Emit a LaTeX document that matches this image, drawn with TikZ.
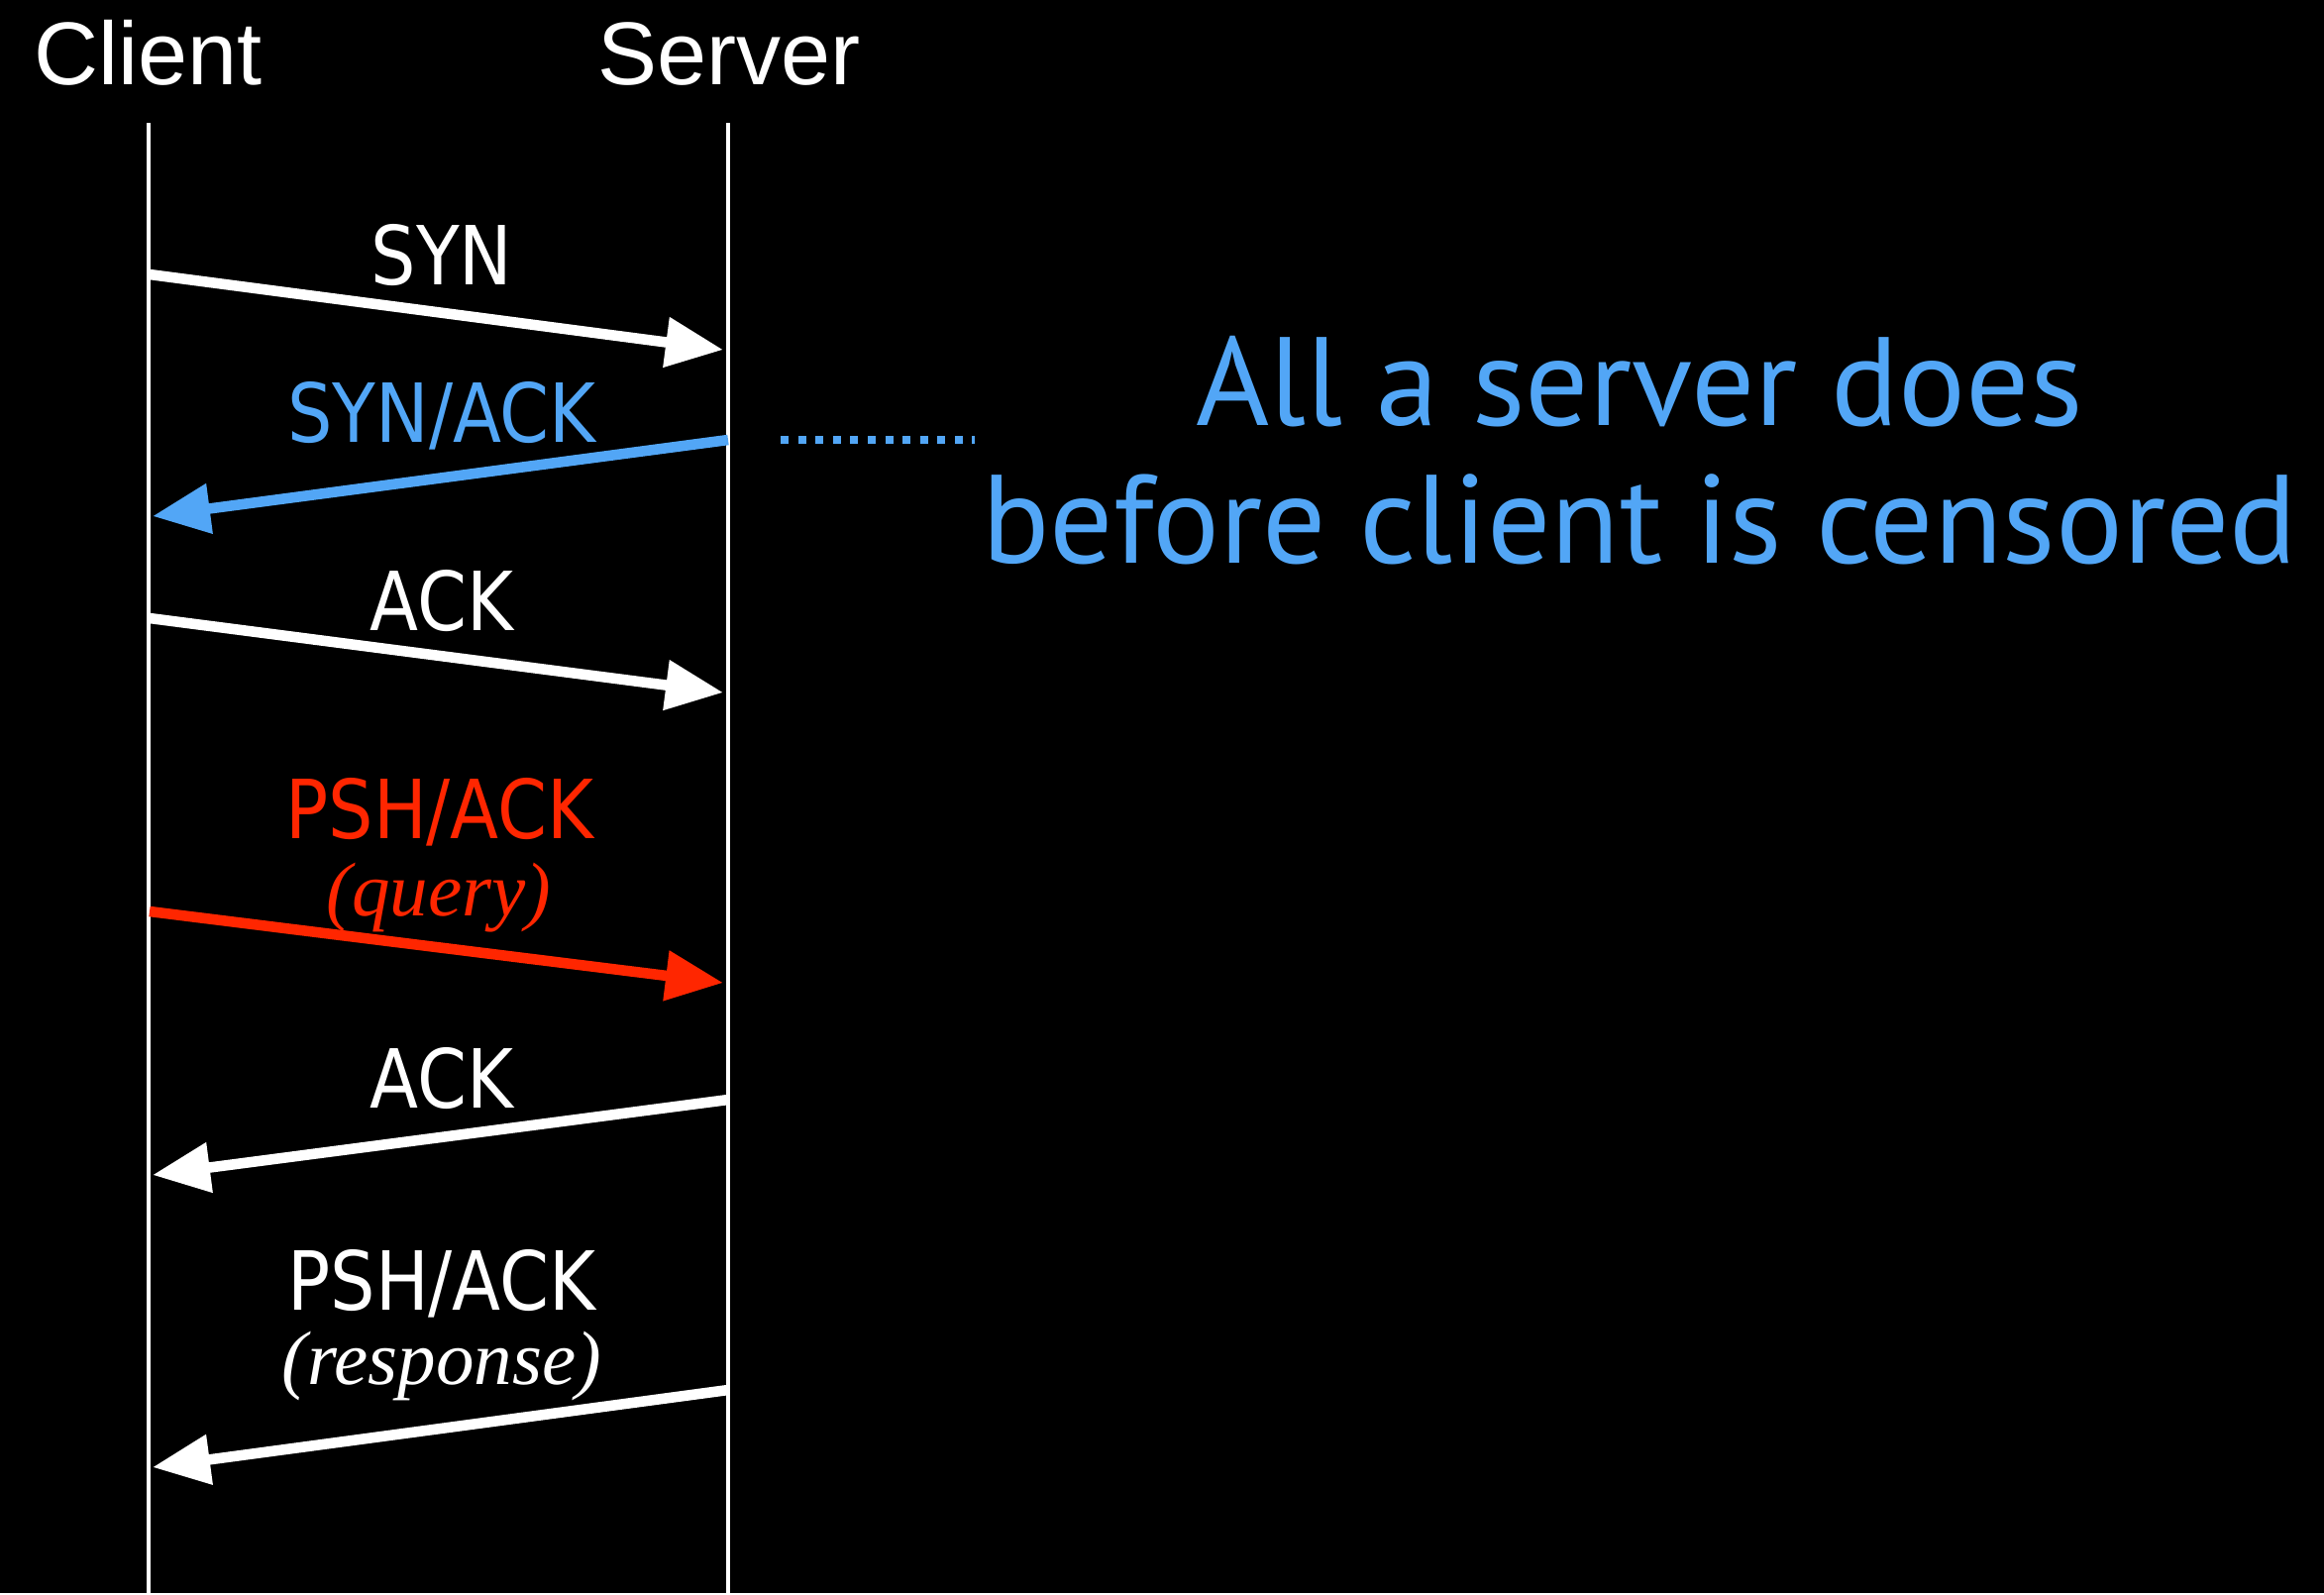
\documentclass[tikz,border=0pt]{standalone}
\usepackage{fontspec}
\setmainfont{Liberation Sans}
\newfontfamily\msgfont[FakeStretch=0.87]{DejaVu Sans}
\newfontfamily\notefont{PT Sans}
\newfontfamily\remfont{Liberation Serif}
\usepackage{xcolor}
\usepackage{tikz}
\usetikzlibrary{positioning,arrows.meta}
\definecolor{synblue}{RGB}{82,166,246}
\definecolor{pshred}{RGB}{255,38,0}

\begin{document}
\begin{tikzpicture}[x=0.01cm, y=-0.01cm, >={Triangle[length=16.5pt, width=13.8pt]}, head/.style = {text=white, font=\fontsize{25.6}{28}\selectfont, anchor=base, inner sep=0pt}, life/.style = {draw=white, line width=1pt}, msg/.style = {->, draw=white, line width=3pt}, lbl/.style = {text=white, font=\msgfont\fontsize{23.4}{26}\selectfont, anchor=base, inner sep=0pt}, remark/.style = {text=white, font=\remfont\itshape\fontsize{21.9}{24}\selectfont, anchor=base, inner sep=0pt}, note/.style = {text=synblue, font=\notefont\fontsize{36.1}{39.5}\selectfont, align=center, anchor=base, inner sep=0pt}]

\fill[black] (0,0) rectangle (2346,1608);

\node[head] (client) at (150,85) {Client};
\node[head] (server) at (736,85) {Server};

\coordinate (cTop) at (150,124);
\coordinate (cBot) at (150,1608);
\coordinate (sTop) at (735,124);
\coordinate (sBot) at (735,1608);

\coordinate (synC) at (151,277);      \coordinate (synS) at (730,353);
\coordinate (synackS) at (735,444);   \coordinate (synackC) at (154,521);
\coordinate (ackC) at (151,624);      \coordinate (ackS) at (730,699);
\coordinate (queryC) at (151,920);    \coordinate (queryS) at (730,992);
\coordinate (ackbS) at (735,1110);    \coordinate (ackbC) at (154,1186);
\coordinate (respS) at (735,1403);    \coordinate (respC) at (154,1481);
\coordinate (dotA) at (788,444);      \coordinate (dotB) at (984,444);

\node[lbl] (syn) at (446,287) {SYN};
\node[lbl, text=synblue] (synack) at (446,446) {SYN/ACK};
\node[lbl] (ack) at (446,636) {ACK};
\node[lbl, text=pshred] (psh) at (444,846) {PSH/ACK};
\node[remark, text=pshred] (query) at (443,924) {(query)};
\node[lbl] (ackb) at (446,1118) {ACK};
\node[lbl] (pshb) at (446,1322) {PSH/ACK};
\node[remark] (response) at (446,1397) {(response)};

\node[note] (censor) at (1655,568) {All a server does\\before client is censored};

\path
    (cTop) edge[life] (cBot)
    (sTop) edge[life] (sBot)
    (synC) edge[msg] (synS)
    (synackS) edge[msg, draw=synblue, fill=synblue] (synackC)
    (ackC) edge[msg] (ackS)
    (queryC) edge[msg, draw=pshred, fill=pshred] (queryS)
    (ackbS) edge[msg] (ackbC)
    (respS) edge[msg] (respC);

\draw[synblue, line width=2.2pt, dash pattern=on 2.3pt off 2.7pt] (dotA) -- (dotB);
\end{tikzpicture}
\end{document}
